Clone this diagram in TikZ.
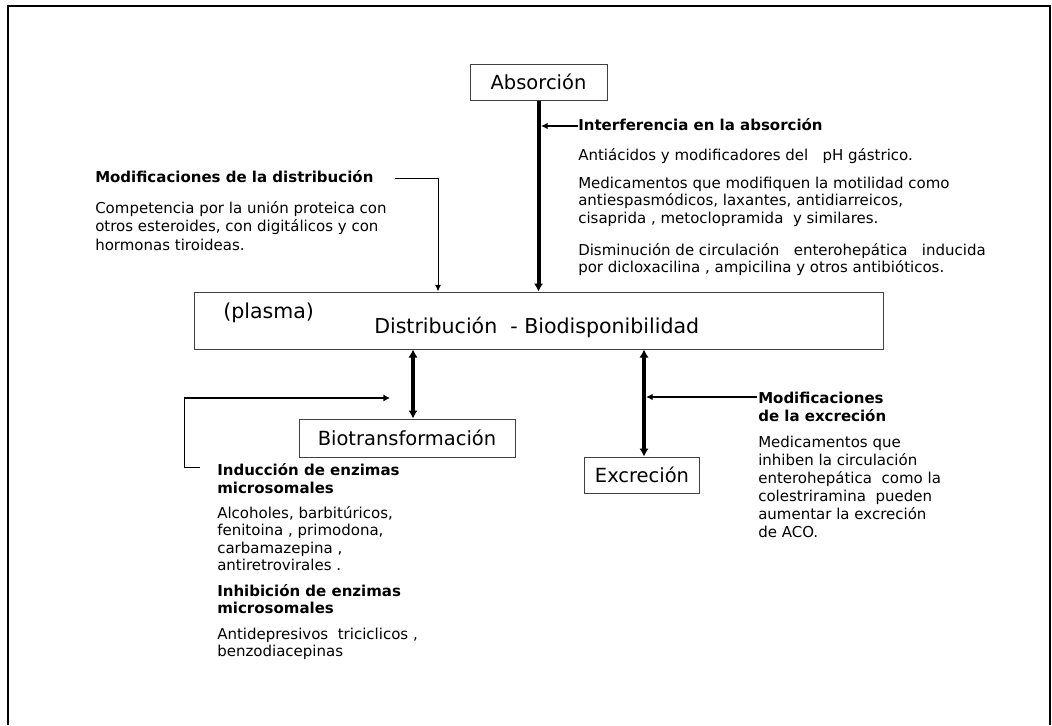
\documentclass[tikz,border=0pt]{standalone}
\usepackage{fontspec}
\setmainfont{DejaVu Sans}
\usetikzlibrary{arrows.meta}
\begin{document}
\begin{tikzpicture}[x=0.75pt,y=-0.75pt,
  frame/.style={line width=2.2pt,black},
  box/.style={draw=black!75,line width=0.75pt,inner sep=0pt,font=\fontsize{14.6pt}{17pt}\selectfont},
  lab/.style={inner sep=0pt,anchor=base west,font=\fontsize{15.4pt}{18pt}\selectfont},
  bodyA/.style={inner sep=0pt,anchor=base west,align=left,font=\fontsize{11.25pt}{13pt}\selectfont},
  bodyB/.style={inner sep=0pt,anchor=base west,align=left,font=\fontsize{11.25pt}{13.9pt}\selectfont},
  bodyC/.style={inner sep=0pt,anchor=base west,align=left,font=\fontsize{11.25pt}{13.1pt}\selectfont},
  bodyD/.style={inner sep=0pt,anchor=base west,align=left,font=\fontsize{11.25pt}{13.4pt}\selectfont},
  thickarr/.style={line width=3pt,-{Latex[length=6pt,width=7pt]}},
  thickdbl/.style={line width=3pt,{Latex[length=6pt,width=7pt]}-{Latex[length=6pt,width=7pt]}},
  medarr/.style={line width=1.3pt,-{Latex[length=5pt,width=5pt]}},
  brarr/.style={line width=2pt,-{Latex[length=5pt,width=5.5pt]}},
  thinline/.style={line width=0.75pt},
  thinarr/.style={line width=0.75pt,-{Latex[length=5pt,width=4.5pt]}}
]
\useasboundingbox (0,0) rectangle (1052,725);
\draw[frame] (8,725) -- (8,6) -- (1050,6) -- (1050,725);

% boxes
\node[box,minimum width=102.75pt,minimum height=27pt] (abs) at (538.5,82) {Absorción};
\node[box,minimum width=516.75pt,minimum height=42.75pt] (dist) at (538.5,320.5) {};
\node[lab] (plasma) at (223,318) {(plasma)};
\node[lab] (distlab) at (374,333) {Distribución\ \ - Biodisponibilidad};
\node[box,minimum width=162pt,minimum height=28.5pt] (bio) at (407,438) {Biotransformación};
\node[box,minimum width=86.25pt,minimum height=27pt] (exc) at (642,475) {Excreción};

% top right text (anchors at the baseline of the last line)
\node[bodyA] (ti1) at (578,130) {\bfseries Interferencia en la absorción};
\node[bodyA] (p1) at (578,160) {Antiácidos y modificadores del\ \ \ pH gástrico.};
\node[bodyA] (p2) at (578,223) {Medicamentos que modifiquen la motilidad como\\antiespasmódicos, laxantes, antidiarreicos,\\cisaprida , metoclopramida\ \ y similares.};
\node[bodyA] (p3) at (578,272.5) {Disminución de circulación\ \ \ enterohepática\ \ \ inducida\\por dicloxacilina , ampicilina y otros antibióticos.};

% top left text
\node[bodyB] (ti2) at (95,182) {\bfseries Modificaciones de la distribución};
\node[bodyB] (p4) at (95,250.5) {Competencia por la unión proteica con\\otros esteroides, con digitálicos y con\\hormonas tiroideas.};

% bottom left text
\node[bodyC] (ti3) at (217,493) {\bfseries Inducción de enzimas\\\bfseries microsomales};
\node[bodyC] (p5) at (217,570.5) {Alcoholes, barbitúricos,\\fenitoina , primodona,\\carbamazepina ,\\antiretrovirales .};
\node[bodyC] (ti4) at (217,613.5) {\bfseries Inhibición de enzimas\\\bfseries microsomales};
\node[bodyC] (p6) at (217,656.5) {Antidepresivos\ \ triciclicos ,\\benzodiacepinas};

% bottom right text
\node[bodyD] (ti5) at (758,421) {\bfseries Modificaciones\\\bfseries de la excreción};
\node[bodyD] (p7) at (758,537) {Medicamentos que\\inhiben la circulación\\enterohepática\ \ como la\\colestriramina\ \ pueden\\aumentar la excreción\\de ACO.};

% connectors
\draw[thickarr] (abs.south) -- (abs.south |- dist.north);
\coordinate (i1) at (578,126);
\coordinate (i2) at (541,126);
\draw[medarr] (i1) -- (i2);

\coordinate (m1) at (395,178);
\coordinate (m2) at (438,178);
\draw[thinarr] (m1) -- (m2) -- (m2 |- dist.north);

\coordinate (bx) at (413,0);
\draw[thickdbl] (bx |- dist.south) -- (bx |- bio.north);
\coordinate (ex) at (644,0);
\draw[thickdbl] (ex |- dist.south) -- (ex |- exc.north);

\coordinate (b1) at (200,467);
\coordinate (b2) at (184,398);
\coordinate (b3) at (390,398);
\draw[thinline] (b1) -- (b1 -| b2) -- (b2);
\draw[brarr] (b2) -- (b3);

\coordinate (e1) at (757,397);
\coordinate (e2) at (646,397);
\draw[medarr] (e1) -- (e2);
\end{tikzpicture}
\end{document}
